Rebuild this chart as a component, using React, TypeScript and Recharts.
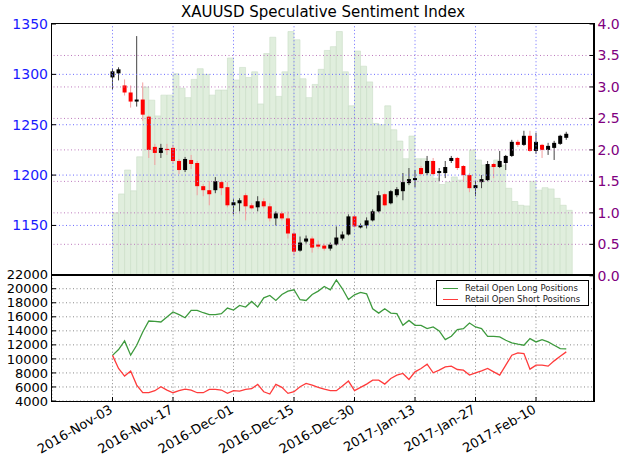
import { FC } from "react";
import {
  Bar,
  XAxis,
  YAxis,
  ComposedChart,
  LineChart,
  Line,
  CartesianGrid,
  ReferenceLine,
  Legend,
} from "recharts";

// price candles, one per trading day (index 0 = 2016-Nov-03)
const open = [
  1297, 1301, 1289, 1282, 1273, 1275, 1258, 1228, 1222, 1226, 1227, 1214, 1205, 1215, 1212, 1189, 1185, 1185, 1193, 1188,
  1170, 1172, 1180, 1170, 1168, 1174, 1169, 1157, 1162, 1157, 1142, 1125, 1134, 1137, 1131, 1130, 1127, 1131, 1137, 1141,
  1159, 1148, 1150, 1155, 1164, 1181, 1172, 1180, 1184, 1192, 1195, 1207, 1202, 1214, 1202, 1202, 1214, 1217, 1209, 1200,
  1187, 1193, 1195, 1211, 1208, 1212, 1219, 1233, 1230, 1239, 1224, 1230, 1225, 1227, 1231, 1237,
];
const high = [
  1306, 1307, 1295, 1289, 1338, 1292, 1259, 1231, 1231, 1231, 1230, 1216, 1218, 1220, 1214, 1191, 1194, 1198, 1194, 1193,
  1176, 1177, 1182, 1172, 1179, 1177, 1172, 1164, 1164, 1164, 1144, 1139, 1140, 1139, 1135, 1132, 1133, 1149, 1144, 1161,
  1161, 1152, 1158, 1166, 1184, 1182, 1185, 1188, 1202, 1207, 1205, 1209, 1219, 1217, 1207, 1214, 1219, 1218, 1210, 1202,
  1194, 1200, 1214, 1212, 1224, 1220, 1235, 1235, 1244, 1244, 1242, 1231, 1232, 1234, 1240, 1243,
];
const low = [
  1285, 1294, 1279, 1267, 1268, 1254, 1217, 1210, 1217, 1220, 1212, 1201, 1203, 1206, 1180, 1179, 1170, 1182, 1180, 1168,
  1161, 1164, 1155, 1166, 1164, 1167, 1154, 1150, 1155, 1137, 1120, 1124, 1132, 1123, 1127, 1125, 1125, 1130, 1135, 1140,
  1148, 1147, 1147, 1154, 1163, 1169, 1171, 1178, 1175, 1190, 1188, 1200, 1200, 1200, 1194, 1197, 1212, 1205, 1194, 1183,
  1179, 1187, 1194, 1197, 1207, 1205, 1218, 1228, 1229, 1223, 1221, 1217, 1220, 1215, 1230, 1235,
];
const close = [
  1303, 1305, 1282, 1273, 1275, 1260, 1225, 1222, 1227, 1225, 1214, 1205, 1216, 1211, 1189, 1185, 1181, 1194, 1187, 1170,
  1173, 1175, 1169, 1167, 1174, 1169, 1157, 1162, 1157, 1142, 1124, 1133, 1137, 1128, 1129, 1127, 1131, 1138, 1141, 1159,
  1149, 1150, 1155, 1164, 1180, 1170, 1184, 1186, 1193, 1196, 1197, 1201, 1214, 1201, 1204, 1208, 1217, 1207, 1200, 1187,
  1190, 1196, 1211, 1208, 1214, 1219, 1233, 1230, 1239, 1224, 1233, 1225, 1229, 1232, 1239, 1241,
];

// speculative sentiment ratio (right axis)
const ratio = [
  1.0, 1.3, 1.68, 1.35, 1.89, 3.0, 2.79, 2.54, 2.87, 2.87, 3.21, 2.98, 2.83, 3.12, 3.29, 3.2, 2.87, 2.95, 2.95, 3.46,
  3.11, 3.31, 3.15, 3.24, 2.73, 3.53, 3.79, 2.85, 3.24, 3.88, 3.75, 3.13, 2.83, 3.04, 3.28, 3.58, 3.64, 3.88, 3.24, 2.7,
  3.57, 3.33, 3.08, 2.42, 2.4, 2.7, 2.32, 2.14, 1.86, 2.22, 1.86, 1.86, 1.82, 1.55, 1.45, 1.49, 1.57, 1.52, 1.6, 2.0,
  1.84, 1.76, 1.74, 1.84, 1.76, 1.39, 1.18, 1.12, 1.11, 1.5, 1.36, 1.4, 1.38, 1.23, 1.12, 1.04,
];

const longPos = [
  10500, 11330, 12560, 10530, 11950, 13840, 15400, 15350, 15260, 15970, 16680, 16300, 15870, 16920, 16920, 16580, 16300,
  16300, 16440, 17240, 16960, 17620, 17390, 18190, 17390, 18710, 19040, 18330, 19180, 19650, 19850, 18430, 18330, 19180,
  19660, 20320, 19850, 21260, 19990, 18470, 19140, 19470, 19280, 17150, 16530, 17150, 16530, 16440, 14780, 15490, 14780,
  14780, 14310, 14550, 13980, 12750, 13220, 14170, 14310, 15120, 14550, 14310, 13220, 13220, 13130, 12660, 12280, 12090,
  11950, 12890, 12420, 12750, 12420, 11950, 11470, 11430,
];
const shortPos = [
  10500, 8635, 7550, 8260, 6270, 5180, 5180, 5470, 6030, 5560, 5180, 5470, 5700, 5560, 5180, 5180, 5650, 5650, 5560, 5090,
  5470, 5420, 5650, 5750, 6370, 5320, 4990, 6370, 5940, 5090, 5320, 6030, 6510, 6270, 5940, 5700, 5470, 5470, 6130, 6840,
  5470, 5940, 6410, 6980, 6980, 6410, 7220, 7690, 7930, 7070, 8160, 8640, 9250, 8020, 8400, 8870, 8970, 8490, 8400, 7690,
  8020, 8300, 8640, 8160, 7690, 9110, 10530, 10860, 10760, 8540, 9110, 9110, 8970, 9720, 10390, 11000,
];

const dateTicks = [0, 10, 20, 30, 40, 50, 60, 70];
const dateLabels = [
  "2016-Nov-03",
  "2016-Nov-17",
  "2016-Dec-01",
  "2016-Dec-15",
  "2016-Dec-30",
  "2017-Jan-13",
  "2017-Jan-27",
  "2017-Feb-10",
];
const priceTicks = [1150, 1200, 1250, 1300, 1350];
const ratioTicks = [0, 0.5, 1, 1.5, 2, 2.5, 3, 3.5, 4];
const posTicks = [4000, 6000, 8000, 10000, 12000, 14000, 16000, 18000, 20000, 22000];

const FONT = "DejaVu Sans";

const candleRows = open.map((o, i) => ({
  i,
  o,
  h: high[i],
  l: low[i],
  c: close[i],
  ratio: ratio[i],
}));
const posRows = longPos.map((v, i) => ({ i, long: v, short: shortPos[i] }));

const Candle = (props: any) => {
  const { x, y, width, height, payload } = props;
  if (height == null || !payload) return null;
  const { o, h, l, c } = payload;
  const k = height / (h - l || 1);
  const py = (v: number) => y + (h - v) * k;
  const up = c >= o;
  const cx = x + width / 2;
  const top = py(Math.max(o, c));
  const bot = py(Math.min(o, c));
  return (
    <g>
      <line x1={cx} x2={cx} y1={y} y2={y + height} stroke={up ? "#444" : "#f2a0a0"} strokeWidth={1} />
      <rect x={x} y={top} width={width} height={Math.max(bot - top, 1.2)} fill={up ? "#000" : "#f00"} />
    </g>
  );
};

const DateTick = (props: any) => {
  const { x, y, payload } = props;
  const label = dateLabels[dateTicks.indexOf(payload.value)];
  const ax = x + 1;
  const ay = y + 11;
  return (
    <text
      x={ax}
      y={ay}
      transform={`rotate(-30 ${ax} ${ay})`}
      textAnchor="end"
      fontSize={13}
      fontFamily={FONT}
      fill="#000"
    >
      {label}
    </text>
  );
};

const NoTick = () => <g />;

const LegendBox = () => (
  <div
    style={{
      width: 153,
      height: 26,
      border: "1px solid #000",
      background: "#fff",
      fontFamily: FONT,
      fontSize: 8.5,
      boxSizing: "border-box",
      padding: "2px 0 0 6px",
      lineHeight: "11px",
    }}
  >
    {[
      ["#3d9a3d", "Retail Open Long Positions"],
      ["#ff3b3b", "Retail Open Short Positions"],
    ].map(([col, name]) => (
      <div key={name} style={{ display: "flex", alignItems: "center" }}>
        <span style={{ display: "inline-block", width: 15, height: 0, borderTop: `1.3px solid ${col}`, marginRight: 7 }} />
        <span style={{ color: "#222" }}>{name}</span>
      </div>
    ))}
  </div>
);

const App: FC = () => {
  return (
    <div style={{ position: "fixed", left: 0, top: 0, width: 624, height: 463, background: "#fff", overflow: "hidden" }}>
      <div
        style={{
          position: "absolute",
          left: 52,
          width: 542,
          top: 3,
          textAlign: "center",
          fontFamily: FONT,
          fontSize: 15,
          color: "#000",
        }}
      >
        XAUUSD Speculative Sentiment Index
      </div>

      <div style={{ position: "absolute", left: 0, top: 0 }}>
        <ComposedChart width={624} height={290} data={candleRows} margin={{ top: 24, right: 0, bottom: 14.2, left: 0 }}>
          <XAxis xAxisId="c" dataKey="i" type="number" domain={[-10, 79.5]} hide allowDataOverflow />
          <XAxis xAxisId="b" dataKey="i" type="number" domain={[-10.5, 79]} hide allowDataOverflow />
          <YAxis
            yAxisId="p"
            orientation="left"
            width={52}
            type="number"
            domain={[1100, 1350]}
            ticks={priceTicks}
            interval={0}
            allowDataOverflow
            axisLine={false}
            tickSize={-4}
            tickMargin={8}
            tickLine={{ stroke: "#000" }}
            tick={{ fill: "#1a1aff", fontSize: 14, fontFamily: FONT }}
          />
          <YAxis
            yAxisId="r"
            orientation="right"
            width={30.5}
            type="number"
            domain={[0, 4]}
            ticks={ratioTicks}
            interval={0}
            allowDataOverflow
            axisLine={false}
            tickSize={-4}
            tickMargin={8}
            tickLine={{ stroke: "#000" }}
            tickFormatter={(v: number) => v.toFixed(1)}
            tick={{ fill: "#800080", fontSize: 14, fontFamily: FONT }}
          />
          <Bar
            xAxisId="b"
            yAxisId="r"
            dataKey="ratio"
            barSize={6}
            fill="#e0eedd"
            stroke="#c9ddc6"
            strokeWidth={0.6}
            isAnimationActive={false}
          />
          {priceTicks.slice(0, 4).map((t) => (
            <ReferenceLine
              key={"p" + t}
              xAxisId="c"
              yAxisId="p"
              y={t}
              stroke="#6a6aff"
              strokeDasharray="1 2.5"
            />
          ))}
          {ratioTicks.slice(1, 8).map((t) => (
            <ReferenceLine
              key={"r" + t}
              xAxisId="c"
              yAxisId="r"
              y={t}
              stroke="#bd7abd"
              strokeDasharray="1 2.5"
            />
          ))}
          {dateTicks.map((t) => (
            <ReferenceLine
              key={"x" + t}
              xAxisId="c"
              yAxisId="p"
              x={t}
              stroke="#6a6aff"
              strokeDasharray="1 2.5"
            />
          ))}
          <Bar
            xAxisId="c"
            yAxisId="p"
            dataKey={(d: any) => [d.l, d.h]}
            barSize={4}
            shape={Candle}
            isAnimationActive={false}
          />
        </ComposedChart>
      </div>

      <div style={{ position: "absolute", left: 0, top: 0 }}>
        <LineChart width={624} height={463} data={posRows} margin={{ top: 274.7, right: 0, bottom: 2, left: 0 }}>
          <CartesianGrid yAxisId="l" stroke="#8a8a8a" strokeDasharray="1 2.5" />
          <XAxis
            dataKey="i"
            type="number"
            domain={[-10, 79.5]}
            ticks={dateTicks}
            interval={0}
            allowDataOverflow
            height={60}
            axisLine={false}
            tickSize={-4}
            tickMargin={4}
            tickLine={{ stroke: "#000" }}
            tick={<DateTick />}
          />
          <YAxis
            yAxisId="l"
            orientation="left"
            width={52}
            type="number"
            domain={[4000, 22000]}
            ticks={posTicks}
            interval={0}
            allowDataOverflow
            axisLine={false}
            tickSize={-4}
            tickMargin={8}
            tickLine={{ stroke: "#000" }}
            tick={{ fill: "#000", fontSize: 13, fontFamily: FONT }}
          />
          <YAxis
            yAxisId="rr"
            orientation="right"
            width={30.5}
            type="number"
            domain={[4000, 22000]}
            ticks={posTicks}
            interval={0}
            axisLine={false}
            tickSize={-4}
            tickLine={{ stroke: "#000" }}
            tick={<NoTick />}
          />
          <Line
            yAxisId="l"
            type="linear"
            dataKey="long"
            stroke="#3d9a3d"
            strokeWidth={1.3}
            dot={false}
            isAnimationActive={false}
          />
          <Line
            yAxisId="l"
            type="linear"
            dataKey="short"
            stroke="#ff3b3b"
            strokeWidth={1.3}
            dot={false}
            isAnimationActive={false}
          />
          <Legend
            layout="vertical"
            align="center"
            verticalAlign="middle"
            content={<LegendBox />}
            wrapperStyle={{ position: "absolute", left: 436, top: 280, width: 153 }}
          />
        </LineChart>
      </div>

      <div
        style={{
          position: "absolute",
          left: 51,
          top: 23,
          width: 541,
          height: 251,
          border: "1px solid #000",
          borderRightWidth: 2,
          pointerEvents: "none",
        }}
      />
      <div
        style={{
          position: "absolute",
          left: 51,
          top: 274,
          width: 541,
          height: 126,
          border: "1px solid #000",
          borderRightWidth: 2,
          pointerEvents: "none",
        }}
      />
    </div>
  );
};

export default App;
